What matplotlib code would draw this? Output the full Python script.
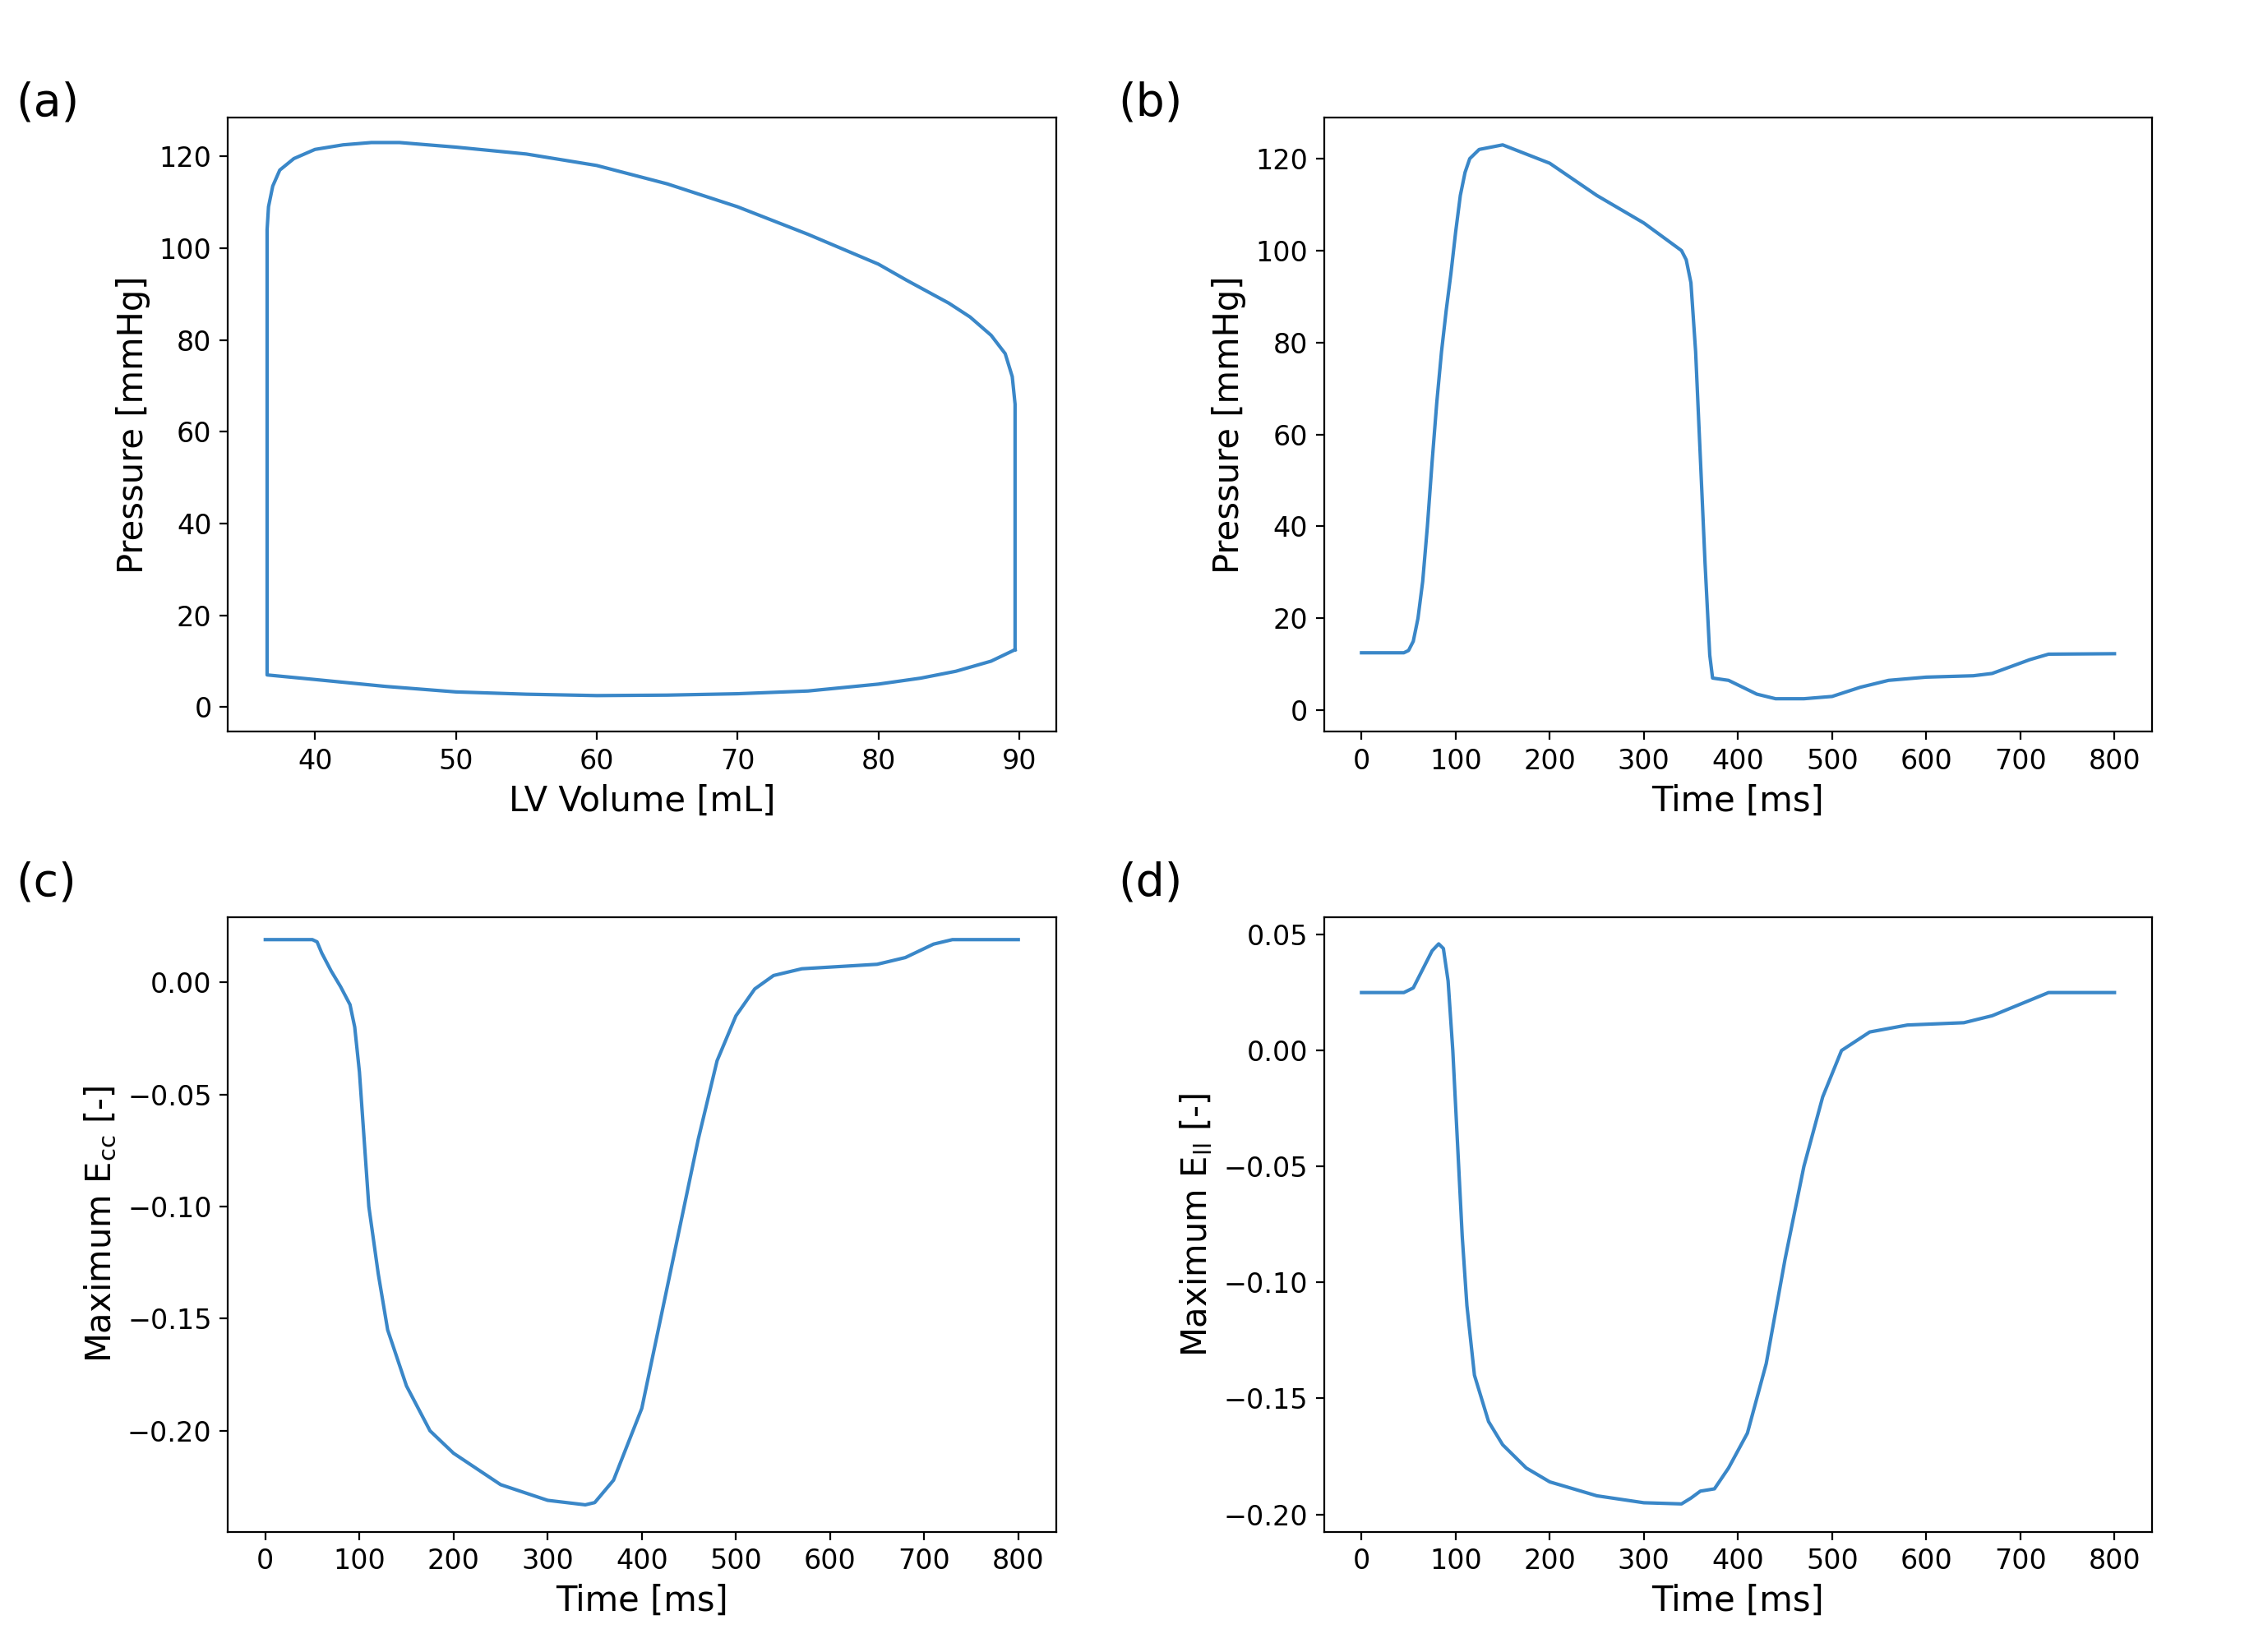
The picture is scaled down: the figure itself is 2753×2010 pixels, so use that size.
import matplotlib
matplotlib.use('Agg')
import matplotlib.pyplot as plt

# (a) PV loop: ejection (top, high->low volume) then filling (bottom)
vol_loop = [89.7, 89.7, 89.5, 89.0, 88.0, 86.5, 85.0, 82.0, 80.0, 75.0, 70.0, 65.0, 60.0, 55.0, 50.0,
            46.0, 44.0, 42.0, 40.0, 38.5, 37.5, 37.0, 36.7, 36.6, 36.6, 36.6,
            40.0, 45.0, 50.0, 55.0, 60.0, 65.0, 70.0, 75.0, 80.0, 83.0, 85.5, 88.0, 89.7]
p_loop = [12.5, 66, 72, 77, 81, 85, 88, 93, 96.5, 103, 109, 114, 118, 120.5, 122,
          123, 123, 122.5, 121.5, 119.5, 117, 113.5, 109, 104, 100, 7,
          6, 4.5, 3.3, 2.8, 2.5, 2.6, 2.9, 3.5, 5, 6.3, 7.8, 10, 12.5]

# (b) pressure vs time
t_p = [0, 45, 50, 55, 60, 65, 70, 75, 80, 85, 90, 95, 100, 105, 110, 115, 125, 150, 200, 250, 300,
       340, 345, 350, 355, 360, 365, 370, 373, 390, 400, 420, 440, 470, 500, 530, 560, 600, 650,
       670, 690, 710, 730, 800]
pressure = [12.5, 12.5, 13, 15, 20, 28, 40, 54, 67, 78, 87, 95, 104, 112, 117, 120, 122, 123, 119,
            112, 106, 100, 98, 93, 78, 55, 32, 12, 7, 6.5, 5.5, 3.5, 2.5, 2.5, 3, 5, 6.5, 7.2, 7.5,
            8, 9.5, 11, 12.2, 12.3]

# (c) maximum circumferential strain
t_cc = [0, 50, 55, 60, 70, 80, 90, 95, 100, 105, 110, 120, 130, 150, 175, 200, 250, 300, 340, 350,
        370, 400, 420, 440, 460, 480, 500, 520, 540, 570, 650, 680, 710, 730, 800]
e_cc = [0.019, 0.019, 0.018, 0.013, 0.005, -0.002, -0.01, -0.02, -0.04, -0.07, -0.1, -0.13, -0.155,
        -0.18, -0.2, -0.21, -0.224, -0.231, -0.233, -0.232, -0.222, -0.19, -0.15, -0.11, -0.07,
        -0.035, -0.015, -0.003, 0.003, 0.006, 0.008, 0.011, 0.017, 0.019, 0.019]

# (d) maximum longitudinal strain
t_ll = [0, 45, 55, 65, 75, 82, 87, 92, 97, 102, 107, 112, 120, 135, 150, 175, 200, 250, 300, 340,
        350, 360, 375, 390, 410, 430, 450, 470, 490, 510, 540, 580, 640, 670, 700, 730, 800]
e_ll = [0.025, 0.025, 0.027, 0.035, 0.043, 0.046, 0.044, 0.03, 0.0, -0.04, -0.08, -0.11, -0.14,
        -0.16, -0.17, -0.18, -0.186, -0.192, -0.195, -0.1955, -0.193, -0.19, -0.189, -0.18, -0.165,
        -0.135, -0.09, -0.05, -0.02, 0.0, 0.008, 0.011, 0.012, 0.015, 0.02, 0.025, 0.025]

color = '#3a87c8'
fig = plt.figure(figsize=(13.765, 10.05), dpi=200)
pos = {'a': [0.1006, 0.557, 0.366, 0.372], 'b': [0.585, 0.557, 0.366, 0.372],
       'c': [0.1006, 0.0728, 0.366, 0.372], 'd': [0.585, 0.0728, 0.366, 0.372]}
axs = {k: fig.add_axes(v) for k, v in pos.items()}
lab = 15

ax = axs['a']
ax.plot(vol_loop, p_loop, color=color, lw=1.5)
ax.set_xlim(33.8, 92.6)
ax.set_ylim(-5.4, 128.5)
ax.set_xlabel('LV Volume [mL]', fontsize=lab)
ax.set_ylabel('Pressure [mmHg]', fontsize=lab)

ax = axs['b']
ax.plot(t_p, pressure, color=color, lw=1.5)
ax.set_ylim(-4.7, 129)
ax.set_ylabel('Pressure [mmHg]', fontsize=lab)

ax = axs['c']
ax.plot(t_cc, e_cc, color=color, lw=1.5)
ax.set_ylim(-0.245, 0.029)
ax.set_ylabel(r'Maximum E$_{\mathrm{cc}}$ [-]', fontsize=lab)

ax = axs['d']
ax.plot(t_ll, e_ll, color=color, lw=1.5)
ax.set_ylim(-0.2075, 0.0575)
ax.set_ylabel(r'Maximum E$_{\mathrm{ll}}$ [-]', fontsize=lab)

for k in ['b', 'c', 'd']:
    axs[k].set_xlim(-40, 840)
    axs[k].set_xlabel('Time [ms]', fontsize=lab)
    axs[k].set_xticks(range(0, 801, 100))
axs['c'].set_yticks([0.0, -0.05, -0.1, -0.15, -0.2])
axs['d'].set_yticks([0.05, 0.0, -0.05, -0.1, -0.15, -0.2])

for k, ax in axs.items():
    ax.tick_params(labelsize=12)
    for s in ax.spines.values():
        s.set_linewidth(0.8)

fig.text(0.007, 0.93, '(a)', fontsize=20)
fig.text(0.494, 0.93, '(b)', fontsize=20)
fig.text(0.007, 0.458, '(c)', fontsize=20)
fig.text(0.494, 0.458, '(d)', fontsize=20)

fig.savefig('out.png', dpi=200)
